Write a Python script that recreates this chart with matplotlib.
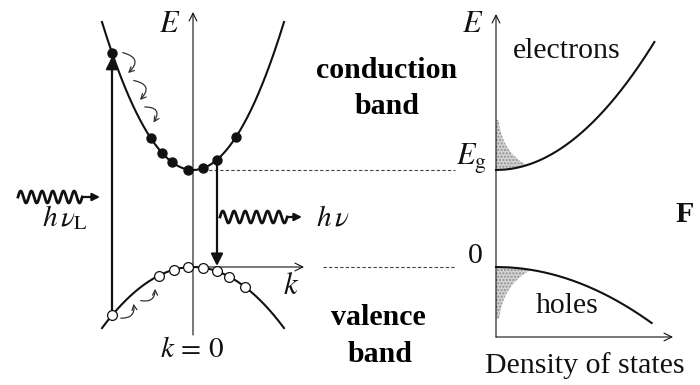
import numpy as np
import matplotlib.pyplot as plt
from matplotlib.patches import FancyArrowPatch

plt.rcParams['font.family'] = ['Liberation Serif', 'DejaVu Serif']
plt.rcParams['mathtext.fontset'] = 'stix'

# --- band diagram (E(k)) : pixel-like units, E measured upward from valence top
k0_x, E0_y = 193, 267      # where k = 0, E = 0 sits
Eg = 97                    # band gap
k_edge = 91                # half width of drawn bands
c_curv = 0.01787           # conduction band curvature
v_curv = 0.00737           # valence band curvature
electron_k = [-81, -42, -31, -21, -5, 10, 24, 43]
hole_k = [-81, -34, -19, -5, 10, 24, 36, 52]
absorb_k = -81
emit_k = 24

# --- density of states panel
dos_x0 = 496
dos_c_e, dos_c_h = 14.0, 20.8   # sqrt(E) prefactors
dos_Emax_e, dos_Emax_h = 128, 56
occ_amp = 40                     # width scale of occupied-state shading
occ_decay_e, occ_decay_h = 18.0, 20.0
fill_depth_e, fill_depth_h = 50, 52

TXT = 21.5


def px(k):
    return k0_x + np.asarray(k, dtype=float)


def py(E):
    return E0_y - np.asarray(E, dtype=float)


def Ec(k):
    return Eg + c_curv * np.asarray(k, dtype=float) ** 2


def Ev(k):
    return -v_curv * np.asarray(k, dtype=float) ** 2


fig = plt.figure(figsize=(7, 3.85), dpi=100)
ax = fig.add_axes([0, 0, 1, 1])
ax.set_xlim(0, 700)
ax.set_ylim(385, 0)
ax.axis('off')

ink = '#111111'


def axis_arrow(x1, y1, x2, y2):
    ax.annotate('', xy=(x2, y2), xytext=(x1, y1),
                arrowprops=dict(arrowstyle='->', lw=0.8, color=ink,
                                shrinkA=0, shrinkB=0, mutation_scale=14))


# axes of E(k)
axis_arrow(px(0), 335, px(0), 12)
axis_arrow(px(0), py(0), 304, py(0))

# bands
kk = np.linspace(-k_edge, k_edge, 200)
ax.plot(px(kk), py(Ec(kk)), color=ink, lw=1.5)
ax.plot(px(kk), py(Ev(kk)), color=ink, lw=1.5)

# dashed guide lines
ax.plot([px(10), 455], [py(Eg), py(Eg)], color='#444444', lw=0.8, ls=(0, (3, 2)))
ax.plot([323, 455], [py(0), py(0)], color='#444444', lw=0.8, ls=(0, (3, 2)))

# absorption / emission arrows
ax.annotate('', xy=(px(absorb_k), py(Ec(absorb_k)) + 4),
            xytext=(px(absorb_k), py(Ev(absorb_k))),
            arrowprops=dict(arrowstyle='-|>', lw=1.6, color=ink,
                            shrinkA=0, shrinkB=0, mutation_scale=18))
ax.annotate('', xy=(px(emit_k), py(0) - 1),
            xytext=(px(emit_k), py(Ec(emit_k))),
            arrowprops=dict(arrowstyle='-|>', lw=1.6, color=ink,
                            shrinkA=0, shrinkB=0, mutation_scale=18))

# carriers
ax.scatter(px(electron_k), py(Ec(electron_k)), s=42, color=ink, zorder=5)
ax.scatter(px(hole_k), py(Ev(hole_k)), s=50, facecolor='white',
           edgecolor=ink, lw=0.9, zorder=5)

# relaxation curls
curls_e = [((120, 52), (126, 75)), ((131, 80), (138, 102)), ((142, 107), (152, 125))]
curls_h = [((118, 318), (133, 301)), ((138, 300), (155, 286))]
for a, b in curls_e:
    ax.add_patch(FancyArrowPatch(a, b, connectionstyle='arc3,rad=-1.0',
                                 arrowstyle='->', mutation_scale=9, lw=0.9,
                                 color='#333333'))
for a, b in curls_h:
    ax.add_patch(FancyArrowPatch(a, b, connectionstyle='arc3,rad=0.7',
                                 arrowstyle='->', mutation_scale=9, lw=0.9,
                                 color='#333333'))


# photons
def photon(x0, y0, period, n, tip):
    xs = np.linspace(x0, x0 + n * period, 300)
    ys = y0 - 6.0 * np.sin(2 * np.pi * (xs - x0) / period)
    ax.plot(xs, ys, color=ink, lw=2.0)
    ax.annotate('', xy=(tip, y0), xytext=(xs[-1], y0),
                arrowprops=dict(arrowstyle='-|>', lw=1.6, color=ink,
                                shrinkA=0, shrinkB=0, mutation_scale=11))


photon(18, 197, 10.7, 6, 100)
photon(220, 217, 11.2, 6, 302)

# labels for E(k)
ax.text(170, 24, '$E$', fontsize=22, ha='center', va='center', color=ink)
ax.text(291, 287, '$k$', fontsize=22, ha='center', va='center', color=ink)
ax.text(192, 350, r'$k\,=\,0$', fontsize=21, ha='center', va='center', color=ink)
ax.text(42, 218, r'$h\,\nu_{\mathrm{L}}$', fontsize=21, ha='left', va='center', color=ink)
ax.text(316, 218, r'$h\,\nu$', fontsize=21, ha='left', va='center', color=ink)

ax.text(387, 78, 'conduction', fontsize=TXT, fontweight='bold', ha='center', va='baseline')
ax.text(387, 114, 'band', fontsize=TXT, fontweight='bold', ha='center', va='baseline')
ax.text(378, 325, 'valence', fontsize=TXT, fontweight='bold', ha='center', va='baseline')
ax.text(380, 362, 'band', fontsize=TXT, fontweight='bold', ha='center', va='baseline')

# --- density of states
axis_arrow(dos_x0, 337, dos_x0, 14)
axis_arrow(dos_x0, 337, 673, 337)

dE = np.linspace(0, dos_Emax_e, 300)
ax.plot(dos_x0 + dos_c_e * np.sqrt(dE), py(Eg + dE), color=ink, lw=1.5)
dH = np.linspace(0, dos_Emax_h, 300)
ax.plot(dos_x0 + dos_c_h * np.sqrt(dH), py(-dH), color=ink, lw=1.5)

# occupied states: DOS limited by a thermal tail
dFe = np.linspace(0, fill_depth_e, 300)
dFh = np.linspace(0, fill_depth_h, 300)
we = np.minimum(dos_c_e * np.sqrt(dFe), occ_amp * np.exp(-dFe / occ_decay_e))
wh = np.minimum(dos_c_h * np.sqrt(dFh), occ_amp * np.exp(-dFh / occ_decay_h))
ax.fill_betweenx(py(Eg + dFe), dos_x0, dos_x0 + we, facecolor='#d4d4d4',
                 edgecolor='#8f8f8f', hatch='.....', lw=0)
ax.fill_betweenx(py(-dFh), dos_x0, dos_x0 + wh, facecolor='#d4d4d4',
                 edgecolor='#8f8f8f', hatch='.....', lw=0)

ax.text(473, 24, '$E$', fontsize=22, ha='center', va='center', color=ink)
ax.text(456, 165, r'$E_{\mathrm{g}}$', fontsize=22, ha='left', va='baseline', color=ink)
ax.text(475, 256, '0', fontsize=TXT, ha='center', va='center', color=ink)
ax.text(567, 58, 'electrons', fontsize=TXT, ha='center', va='baseline', color=ink)
ax.text(567, 313, 'holes', fontsize=TXT, ha='center', va='baseline', color=ink)
ax.text(585, 373, 'Density of states', fontsize=TXT, ha='center', va='baseline', color=ink)
ax.text(675, 222, 'F', fontsize=TXT, fontweight='bold', ha='left', va='baseline', color=ink)

fig.savefig('out.png', dpi=100)
